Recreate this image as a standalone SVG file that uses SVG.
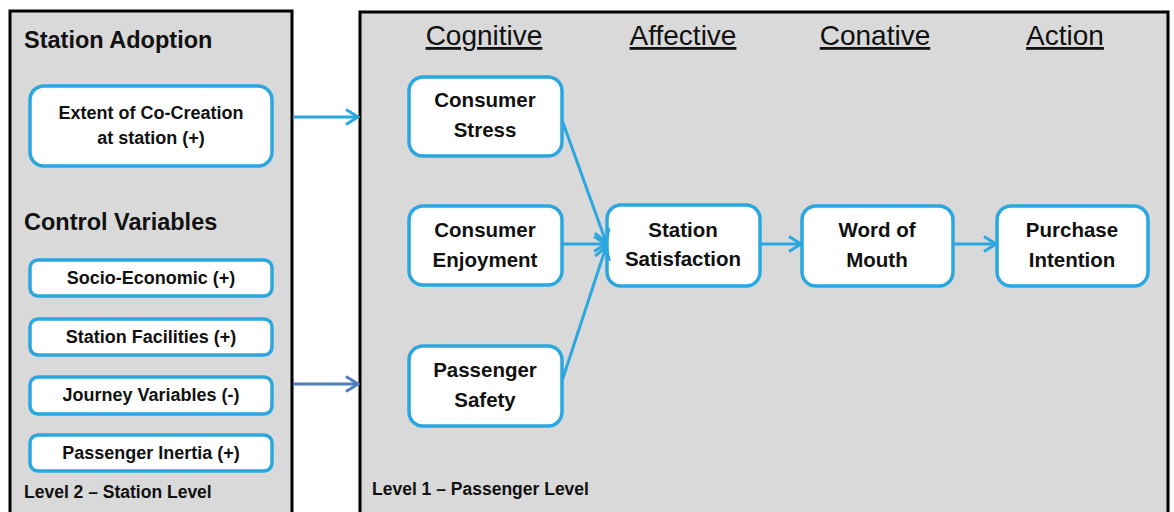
<svg xmlns="http://www.w3.org/2000/svg" width="1174" height="512" viewBox="0 0 1174 512">
<style>
.panel{fill:#d9d9d9;stroke:#000;stroke-width:3}
.node{fill:#fff;stroke:#2aa7df;stroke-width:3.5}
.t{font-family:"Liberation Sans",Arial,sans-serif;font-weight:bold;fill:#111;text-anchor:middle}
.nt{font-size:20.5px}
.st{font-size:18px}
.head{font-family:"Liberation Sans",Arial,sans-serif;font-size:28px;fill:#111;text-anchor:middle;text-decoration:underline}
.ttl{font-family:"Liberation Sans",Arial,sans-serif;font-weight:bold;fill:#111;font-size:23.5px}
.lvl{font-family:"Liberation Sans",Arial,sans-serif;font-weight:bold;fill:#111;font-size:17.5px}
.c{fill:none;stroke:#2aa7df;stroke-width:3}
.c2{fill:none;stroke:#4f7fba;stroke-width:3}
</style>
<defs>
<marker id="ah" viewBox="0 0 16 18" markerWidth="16" markerHeight="18" refX="14" refY="9" orient="auto" markerUnits="userSpaceOnUse">
<path d="M2,1.5 L14,9 L2,16.5" fill="none" stroke="#2aa7df" stroke-width="3"/>
</marker>
<marker id="ah2" viewBox="0 0 16 18" markerWidth="16" markerHeight="18" refX="14" refY="9" orient="auto" markerUnits="userSpaceOnUse">
<path d="M2,1.5 L14,9 L2,16.5" fill="none" stroke="#4f7fba" stroke-width="3"/>
</marker>
</defs>
<rect width="1174" height="512" fill="#fff"/>
<g id="level2-panel">
<rect class="panel" x="10" y="11" width="282" height="520"/>
<text class="ttl" x="24" y="48">Station Adoption</text>
<text class="ttl" x="24" y="230">Control Variables</text>
<text class="lvl" x="24" y="498">Level 2 – Station Level</text>
</g>
<g id="level1-panel">
<rect class="panel" x="360" y="12" width="808" height="520"/>
<text class="head" x="484" y="45">Cognitive</text>
<text class="head" x="683" y="45">Affective</text>
<text class="head" x="875" y="45">Conative</text>
<text class="head" x="1065" y="45">Action</text>
<text class="lvl" x="372" y="495">Level 1 – Passenger Level</text>
</g>
<g id="extent">
<rect class="node" x="30" y="86" width="242" height="80" rx="14"/>
<text class="t st" x="151" y="119">Extent of Co-Creation</text>
<text class="t st" x="151" y="144">at station (+)</text>
</g>
<g id="socio">
<rect class="node" x="30" y="260" width="242" height="36" rx="8"/>
<text class="t st" x="151" y="284">Socio-Economic (+)</text>
</g>
<g id="facilities">
<rect class="node" x="30" y="319" width="242" height="36" rx="8"/>
<text class="t st" x="151" y="343">Station Facilities (+)</text>
</g>
<g id="journey">
<rect class="node" x="30" y="377" width="242" height="37" rx="8"/>
<text class="t st" x="151" y="401">Journey Variables (-)</text>
</g>
<g id="inertia">
<rect class="node" x="30" y="435" width="242" height="36" rx="8"/>
<text class="t st" x="151" y="459">Passenger Inertia (+)</text>
</g>
<g id="stress">
<rect class="node" x="409" y="77" width="153" height="79" rx="14"/>
<text class="t nt" x="485" y="107">Consumer</text>
<text class="t nt" x="485" y="137">Stress</text>
</g>
<g id="enjoyment">
<rect class="node" x="409" y="206" width="153" height="79" rx="14"/>
<text class="t nt" x="485" y="237">Consumer</text>
<text class="t nt" x="485" y="267">Enjoyment</text>
</g>
<g id="safety">
<rect class="node" x="409" y="346" width="153" height="80" rx="14"/>
<text class="t nt" x="485" y="377">Passenger</text>
<text class="t nt" x="485" y="407">Safety</text>
</g>
<g id="satisfaction">
<rect class="node" x="607" y="205" width="153" height="81" rx="14"/>
<text class="t nt" x="683" y="237">Station</text>
<text class="t nt" x="683" y="266">Satisfaction</text>
</g>
<g id="wom">
<rect class="node" x="802" y="206" width="151" height="80" rx="14"/>
<text class="t nt" x="877" y="237">Word of</text>
<text class="t nt" x="877" y="267">Mouth</text>
</g>
<g id="purchase">
<rect class="node" x="997" y="206" width="151" height="80" rx="14"/>
<text class="t nt" x="1072" y="237">Purchase</text>
<text class="t nt" x="1072" y="267">Intention</text>
</g>
<g id="connectors">
<line class="c" x1="293" y1="117" x2="358" y2="117" marker-end="url(#ah)"/>
<line class="c2" x1="293" y1="384" x2="358" y2="384" marker-end="url(#ah2)"/>
<line class="c" x1="562" y1="120" x2="606" y2="242" marker-end="url(#ah)"/>
<line class="c" x1="562" y1="244" x2="606" y2="244" marker-end="url(#ah)"/>
<line class="c" x1="562" y1="381" x2="606" y2="247" marker-end="url(#ah)"/>
<line class="c" x1="760" y1="244" x2="801" y2="244" marker-end="url(#ah)"/>
<line class="c" x1="953" y1="244" x2="996" y2="244" marker-end="url(#ah)"/>
</g>
</svg>
